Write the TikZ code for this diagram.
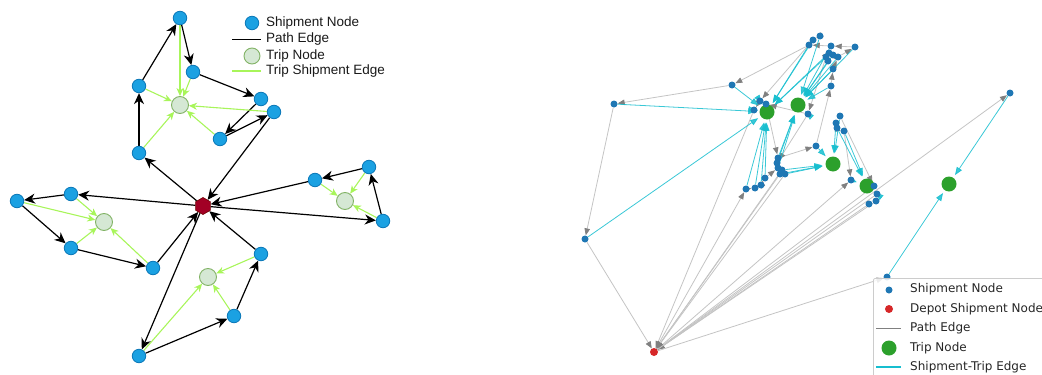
\documentclass[tikz,border=0pt]{standalone}
\usepackage{fontspec}
\setmainfont{Liberation Sans}
\newfontfamily\mplfont{DejaVu Sans}
\usetikzlibrary{arrows.meta,shapes.geometric}
\pgfdeclarelayer{edges}
\pgfsetlayers{edges,main}

% draw.io style colours (left panel)
\definecolor{shipblue}{HTML}{1BA1E2}
\definecolor{shipline}{HTML}{0A78B8}
\definecolor{tripfill}{HTML}{D5E8D4}
\definecolor{tripline}{HTML}{82B366}
\definecolor{depotred}{HTML}{A20025}
\definecolor{depotline}{HTML}{6F0000}
\definecolor{tripedge}{HTML}{A8F55A}
% matplotlib colours (right panel)
\definecolor{mblue}{HTML}{1F77B4}
\definecolor{mgreen}{HTML}{2CA02C}
\definecolor{mred}{HTML}{D62728}
\definecolor{mcyan}{HTML}{17BECF}
\definecolor{mgrayline}{HTML}{C4C4C4}
\definecolor{mgrayhead}{HTML}{808080}

\tikzset{
  ship/.style={circle,fill=shipblue,draw=shipline,line width=0.8pt,minimum size=13.5pt,inner sep=0pt},
  tripnode/.style={circle,fill=tripfill,draw=tripline,line width=0.9pt,minimum size=17pt,inner sep=0pt},
  depotnode/.style={regular polygon,regular polygon sides=6,shape border rotate=30,fill=depotred,draw=depotline,line width=0.6pt,minimum size=17pt,inner sep=0pt},
  pathedge/.style={black,line width=1.2pt,-{Stealth[length=11pt,width=10pt,inset=3.5pt]}},
  tsedge/.style={tripedge,line width=1.1pt,-{Stealth[length=8pt,width=7pt,inset=2.5pt]}},
  legtext/.style={anchor=west,inner sep=0pt,text=black!90,font=\fontsize{13.5}{15}\selectfont},
  % right panel
  mship/.style={circle,fill=mblue,draw=none,minimum size=7pt,inner sep=0pt},
  mtrip/.style={circle,fill=mgreen,draw=none,minimum size=15pt,inner sep=0pt},
  mdepot/.style={circle,fill=mred,draw=none,minimum size=8pt,inner sep=0pt},
  mpath/.style={mgrayline,line width=0.8pt,-{Triangle[length=7pt,width=5.5pt,color=mgrayhead]}},
  mtrp/.style={mcyan,opacity=0.85,line width=0.8pt,shorten >=3pt,-{Triangle[length=8pt,width=6pt]}},
  mlegtext/.style={anchor=west,inner sep=0pt,text=black!85,font=\mplfont\fontsize{12}{14}\selectfont},
}

\begin{document}
\begin{tikzpicture}[x=1pt,y=-1pt]
\useasboundingbox (0,0) rectangle (1042,375);
\clip (0,0) rectangle (1042,375);

% ===================== left panel =====================
\node[depotnode] (dep) at (203,206) {};
% north tour
\node[ship] (A) at (180,18) {};
\node[ship] (B) at (193,72) {};
\node[ship] (C) at (261,99) {};
\node[ship] (D) at (274,112) {};
\node[ship] (E) at (220,139) {};
\node[ship] (F) at (139,86) {};
\node[ship] (G) at (139,153) {};
\node[tripnode] (T1) at (180,105) {};
% east tour
\node[ship] (H) at (315,180) {};
\node[ship] (I) at (369,167) {};
\node[ship] (J) at (383,221) {};
\node[tripnode] (T2) at (345,201) {};
% west tour
\node[ship] (K) at (17,201) {};
\node[ship] (L) at (71,194) {};
\node[ship] (M) at (71,248) {};
\node[ship] (N) at (153,268) {};
\node[tripnode] (T3) at (104,222) {};
% south tour
\node[ship] (O) at (139,356) {};
\node[ship] (P) at (234,316) {};
\node[ship] (Q) at (261,254) {};
\node[tripnode] (T4) at (208,277) {};

\begin{pgfonlayer}{edges}
  \draw[pathedge] (dep) -- (G);
  \draw[pathedge] (G) -- (F);
  \draw[pathedge] (F) -- (A);
  \draw[pathedge] (A) -- (B);
  \draw[pathedge] (B) -- (C);
  \draw[pathedge] (C) -- (E);
  \draw[pathedge] (E) -- (D);
  \draw[pathedge] (D) -- (dep);
  \draw[pathedge] (dep) -- (J);
  \draw[pathedge] (J) -- (I);
  \draw[pathedge] (I) -- (H);
  \draw[pathedge] (H) -- (dep);
  \draw[pathedge] (dep) -- (L);
  \draw[pathedge] (L) -- (K);
  \draw[pathedge] (K) -- (M);
  \draw[pathedge] (M) -- (N);
  \draw[pathedge] (N) -- (dep);
  \draw[pathedge] (dep) -- (O);
  \draw[pathedge] (O) -- (P);
  \draw[pathedge] (P) -- (Q);
  \draw[pathedge] (Q) -- (dep);
  \foreach \s in {A,B,F,G,E,D} \draw[tsedge] (\s) -- (T1);
  \foreach \s in {H,I,J} \draw[tsedge] (\s) -- (T2);
  \foreach \s in {L,K,M,N} \draw[tsedge] (\s) -- (T3);
  \foreach \s in {O,P,Q} \draw[tsedge] (\s) -- (T4);
\end{pgfonlayer}

% legend
\node[ship] (lgship) at (252,23) {};
\node[legtext] (lgshipt) at (266,23) {Shipment Node};
\coordinate (lgpa) at (232,39);
\coordinate (lgpb) at (261,39);
\draw[black,line width=1pt] (lgpa) -- (lgpb);
\node[legtext] (lgpatht) at (266,39) {Path Edge};
\node[tripnode,minimum size=16pt] (lgtrip) at (252,56) {};
\node[legtext] (lgtript) at (266,56) {Trip Node};
\coordinate (lgta) at (232,71);
\coordinate (lgtb) at (261,71);
\draw[tripedge,line width=1.4pt] (lgta) -- (lgtb);
\node[legtext] (lgtst) at (266,71) {Trip Shipment Edge};

% ===================== right panel =====================
\node[mdepot] (dp) at (654,352) {};
\node[mtrip] (t1) at (767,112) {};
\node[mtrip] (t2) at (798,105) {};
\node[mtrip] (t3) at (833,164) {};
\node[mtrip] (t4) at (867,186) {};
\node[mtrip] (t5) at (949,184) {};

\foreach \n/\x/\y in {a1/614/104,a2/732/85,a3/585/239,a4/754/110,a5/760/101,a6/766/104,
  u1/809/45,u2/813/40,u3/820/36,u4/831/46,u5/855/47,u6/829/53,u7/826/57,u8/833/55,
  u9/838/57,u10/828/61,u11/833/69,u12/831/86,u13/808/114,
  m1/840/116,m2/836/123,m3/837/128,m4/844/131,m5/816/146,
  c1/778/158,c2/777/163,c3/778/168,c4/782/170,c5/785/174,c6/780/174,c7/765/178,
  c8/761/185,c9/755/188,c10/746/189,
  d1/851/180,d2/874/186,d3/877/194,d4/876/201,d5/869/204,
  e1/1010/93,e2/887/277}
  \node[mship] (\n) at (\x,\y) {};

\begin{pgfonlayer}{edges}
  % vehicle paths
  \foreach \p/\q in {dp/c10,c10/c9,c9/c8,c8/c7,c7/c3,c1/m5,m5/u12,u12/u11,u11/u9,u9/u5,
    u5/u4,u4/u1,u1/a2,a2/a1,a1/a3,a3/dp,u3/u2,u2/a5,u7/u13,u13/a6,a6/a5,a5/a4,a4/dp,
    a6/c1,u13/c2,c4/dp,c5/dp,c6/dp,dp/d1,d2/dp,d3/dp,d4/dp,d5/dp,m1/d2,m4/d1,m2/m3,
    dp/e1,dp/e2,u10/u7,u6/u8}
    \draw[mpath] (\p) -- (\q);
  % shipment-trip links
  \foreach \s in {a1,a2,a3,a4,a5,a6,u1,u2,u6,u7,c7,c8,c9,c10}
    \draw[mtrp] (\s) -- (t1);
  \foreach \s in {u3,u4,u5,u8,u9,u10,u11,u12,u13,c1,c2,c3}
    \draw[mtrp] (\s) -- (t2);
  \foreach \s in {c4,c5,c6,m1,m2,m5}
    \draw[mtrp] (\s) -- (t3);
  \foreach \s in {m3,m4,d1,d3}
    \draw[mtrp] (\s) -- (t4);
  \foreach \s in {e1,e2}
    \draw[mtrp] (\s) -- (t5);
\end{pgfonlayer}

% legend box
\node[draw=black!20,fill=white,fill opacity=0.85,rounded corners=2pt,line width=0.8pt,
  minimum width=200pt,minimum height=110pt,anchor=north west,inner sep=0pt] (mleg) at (873,278) {};
\node[mship] (mlgship) at (889,290) {};
\node[mlegtext] (mlgshipt) at (910,289) {Shipment Node};
\node[mdepot] (mlgdep) at (889,309) {};
\node[mlegtext] (mlgdept) at (910,309) {Depot Shipment Node};
\coordinate (mlpa) at (876,328);
\coordinate (mlpb) at (901,328);
\draw[mgrayhead,line width=1pt] (mlpa) -- (mlpb);
\node[mlegtext] (mlgpatht) at (910,328) {Path Edge};
\node[mtrip] (mlgtrip) at (889,348) {};
\node[mlegtext] (mlgtript) at (910,348) {Trip Node};
\coordinate (mlca) at (876,367);
\coordinate (mlcb) at (901,367);
\draw[mcyan,line width=1.5pt] (mlca) -- (mlcb);
\node[mlegtext] (mlgstt) at (910,367) {Shipment-Trip Edge};
\end{tikzpicture}
\end{document}
